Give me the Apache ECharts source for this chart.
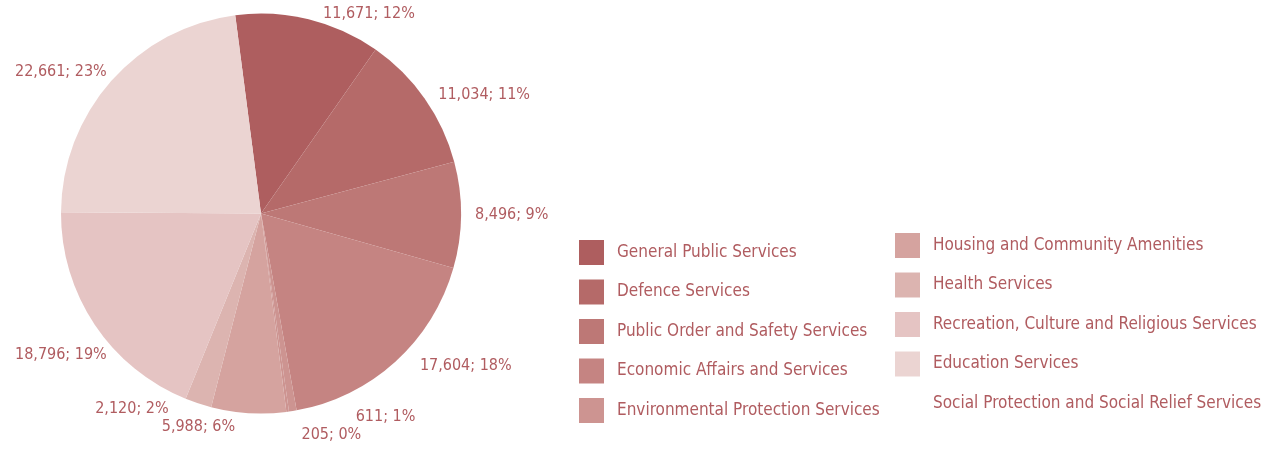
<!DOCTYPE html>
<html>
<head>
<meta charset="utf-8">
<script src="https://cdn.jsdelivr.net/npm/echarts@6/dist/echarts.min.js"></script>
<style>
html,body{margin:0;padding:0;background:#fff;}
#chart{width:1268px;height:451px;}
</style>
</head>
<body>
<div id="chart"></div>
<script>
// Legend order categories
const categories = [
  'General Public Services',
  'Defence Services',
  'Public Order and Safety Services',
  'Economic Affairs and Services',
  'Environmental Protection Services',
  'Housing and Community Amenities',
  'Health Services',
  'Recreation, Culture and Religious Services',
  'Education Services',
  'Social Protection and Social Relief Services'
];
const values = [11671, 11034, 8496, 17604, 611, 5988, 2120, 18796, 22661, 205];
const colors = ['#ae5e5f', '#b56a69', '#bd7876', '#c58482', '#cd9491', '#d5a39f', '#dcb4b0', '#e5c4c3', '#ebd4d2', '#cd9491'];
// order of slices around the pie (indices into categories)
const sliceOrder = [0, 1, 2, 3, 4, 9, 5, 6, 7, 8];

const textColor = '#b05c60';
const font = "'Liberation Sans Narrow', 'DejaVu Sans Condensed', sans-serif";

const CX = 261, CY = 213.5, RAD = 200;

const pieData = sliceOrder.map(i => ({
  name: categories[i],
  value: values[i],
  itemStyle: { color: colors[i] }
}));

const legendItems = categories.map((c, i) =>
  i === 9 ? { name: c, itemStyle: { color: 'rgba(0,0,0,0)' } } : { name: c }
);

const chart = echarts.init(document.getElementById('chart'), null, { renderer: 'canvas' });

const legendCommon = {
  orient: 'vertical',
  icon: 'rect',
  itemWidth: 25,
  itemHeight: 25,
  itemGap: 14.5,
  padding: 0,
  selectedMode: false,
  textStyle: { color: textColor, fontSize: 17, fontFamily: font, padding: [0, 0, 0, 8] }
};

chart.setOption({
  animation: false,
  color: colors,
  legend: [
    Object.assign({}, legendCommon, { left: 579, top: 240, data: legendItems.slice(0, 5) }),
    Object.assign({}, legendCommon, { left: 895, top: 233, data: legendItems.slice(5) })
  ],
  series: [{
    type: 'pie',
    center: [CX, CY],
    radius: RAD,
    startAngle: 97.4,
    clockwise: true,
    avoidLabelOverlap: true,
    data: pieData,
    label: {
      show: true,
      position: 'outside',
      color: textColor,
      fontSize: 16,
      fontFamily: font,
      overflow: 'none',
      formatter: p => p.value.toLocaleString('en-US') + '; ' + Math.round(p.percent) + '%'
    },
    labelLine: { show: false, length: 6, length2: 8 },
    // keep labels inside the canvas; a label pushed inward slides along the pie until it clears it
    labelLayout: function (p) {
      const r = p.labelRect;
      if (r.x < 12) {
        const nx = 15;
        const xr = nx + r.width;
        const dx = xr - CX;
        const R = RAD + 4;
        const off = Math.sqrt(Math.max(R * R - dx * dx, 0));
        const below = (r.y + r.height / 2) > CY;
        return below
          ? { x: nx, y: CY + off, align: 'left', verticalAlign: 'top' }
          : { x: nx, y: CY - off, align: 'left', verticalAlign: 'bottom' };
      }
    },
    emphasis: { disabled: true }
  }]
});
</script>
</body>
</html>
